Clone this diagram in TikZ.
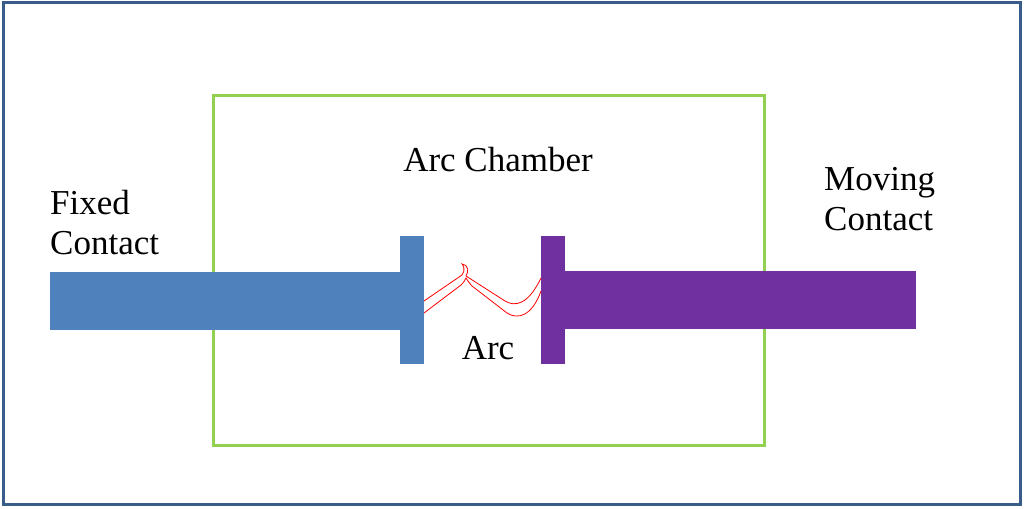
\documentclass[tikz,border=0pt]{standalone}
\usepackage{fontspec}
\newfontfamily\chamberfont{Liberation Serif}
\begin{document}
\begin{tikzpicture}[x=1pt, y=-1pt]

% Styles for frames, contacts and labels
\tikzstyle{frame} = [draw={rgb,255:red,56;green,93;blue,138}, line width=3pt]
\tikzstyle{chamber} = [draw={rgb,255:red,146;green,208;blue,80}, line width=3pt]
\tikzstyle{fixed} = [fill={rgb,255:red,79;green,129;blue,189}]
\tikzstyle{moving} = [fill={rgb,255:red,112;green,48;blue,160}]
\tikzstyle{label} = [font=\chamberfont\fontsize{35}{40}\selectfont, inner sep=0pt]
\tikzstyle{arc} = [draw=red, line width=0.8pt]

\useasboundingbox (0,0) rectangle (1024,508);
\draw[frame] (3,3) rectangle (1020,504);
\draw[chamber] (213,96) rectangle (764,445);

% Contacts
\fill[fixed] (50,272) rectangle (401,330);
\fill[fixed] (400,236) rectangle (424,364);
\fill[moving] (541,236) rectangle (565,364);
\fill[moving] (564,271) rectangle (916,329);

% Arc
\draw[arc] (424,301) -- (462,275) .. controls (466,270) and (463,265) .. (462,264)
  .. controls (470,266) and (468,272) .. (466,276)
  -- (505,301) .. controls (515,307) and (528,305) .. (541,278);
\draw[arc] (424,313) -- (461,285) .. controls (464,282) and (465,280) .. (466,278)
  .. controls (467,281) and (470,283) .. (472,286)
  -- (507,313) .. controls (518,320) and (532,316) .. (541,291);

% Labels
\node[label] (chamber) at (498,160) {Arc Chamber};
\node[label, anchor=north west, align=left] (fixedlbl) at (50,190) {Fixed\\Contact};
\node[label, anchor=north west, align=left] (movinglbl) at (824,167) {Moving\\Contact};
\node[label] (arclbl) at (488,348) {Arc};
\end{tikzpicture}
\end{document}
